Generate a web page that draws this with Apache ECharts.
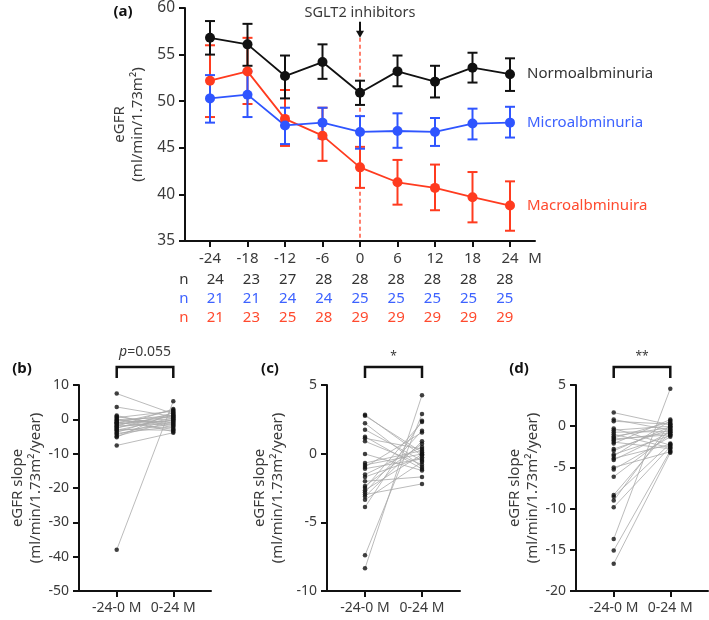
<!DOCTYPE html>
<html><head><meta charset="utf-8">
<script src="https://cdn.jsdelivr.net/npm/echarts@6/dist/echarts.min.js"></script>
<style>html,body{margin:0;padding:0;background:#fff}#c{width:709px;height:620px}</style>
</head><body><div id="c"></div>
<script>
// ---------- Panel (a) data ----------
const months = [-24, -18, -12, -6, 0, 6, 12, 18, 24];
const normoMean = [56.8, 56.1, 52.7, 54.2, 50.9, 53.2, 52.1, 53.6, 52.9];
const normoLow  = [55.0, 53.8, 50.3, 52.4, 49.6, 51.6, 50.4, 52.0, 51.1];
const normoHigh = [58.6, 58.3, 54.9, 56.1, 52.2, 54.9, 53.8, 55.2, 54.6];
const microMean = [50.3, 50.7, 47.4, 47.7, 46.7, 46.8, 46.7, 47.6, 47.7];
const microLow  = [47.7, 48.3, 45.4, 46.0, 44.9, 45.0, 45.2, 45.9, 46.1];
const microHigh = [52.8, 53.2, 49.3, 49.3, 48.4, 48.7, 48.2, 49.2, 49.4];
const macroMean = [52.2, 53.2, 48.1, 46.3, 42.9, 41.3, 40.7, 39.7, 38.8];
const macroLow  = [48.3, 49.7, 45.2, 43.6, 40.7, 38.9, 38.3, 37.0, 36.1];
const macroHigh = [56.0, 56.8, 51.2, 49.3, 45.1, 43.7, 43.2, 42.4, 41.4];
const nNormo = [24, 23, 27, 28, 28, 28, 28, 28, 28];
const nMicro = [21, 21, 24, 24, 25, 25, 25, 25, 25];
const nMacro = [21, 23, 25, 28, 29, 29, 29, 29, 29];
const seriesNames = ['Normoalbminuria', 'Microalbminuria', 'Macroalbminuira'];
const sgltMonth = 0;
const sgltText = 'SGLT2 inhibitors';

// ---------- Panels (b)(c)(d) data: paired slopes ----------
const periodLabels = ['-24-0 M', '0-24 M'];
const bBefore = [7.5, 3.6, 1.1, 0.8, 0.5, 0.2, -0.1, -0.4, -0.5, -0.9, -1.0, -1.1, -1.3, -1.6, -1.9, -2.0, -2.3, -2.6, -2.9, -3.2, -3.4, -3.8, -4.1, -4.5, -4.9, -5.2, -7.6, -38.0];
const bAfter  = [1.6, 0.8, -2.5, -1.8, 2.4, -3.6, 0.6, -0.9, 1.2, -2.9, 0.2, 2.7, -0.4, 1.0, -1.2, 3.0, -0.2, 1.9, -3.2, 0.4, -1.5, 1.4, -2.1, 0.0, -0.6, 2.1, -3.9, 5.3];
const cBefore = [2.83, 2.76, 2.21, 1.75, 1.24, 1.12, 0.90, -0.02, -0.68, -0.82, -0.97, -1.09, -1.52, -1.69, -2.01, -2.35, -2.49, -2.66, -2.81, -2.98, -3.12, -3.36, -3.89, -7.40, -8.35];
const cAfter  = [-0.14, 0.10, -0.97, -0.51, -1.11, 0.34, -0.80, -1.23, 0.22, -0.02, 1.55, -0.38, 0.49, -0.26, -1.69, 0.73, 2.30, -0.05, 1.67, -2.20, 0.90, -0.60, 2.40, 2.88, 4.26];
const dBefore = [1.65, 0.81, 0.60, -0.28, -0.48, -0.73, -0.97, -1.21, -1.41, -1.55, -1.69, -1.93, -2.10, -2.78, -2.98, -3.43, -3.63, -3.91, -4.11, -5.00, -5.24, -6.13, -8.34, -8.55, -9.03, -9.83, -13.70, -15.08, -16.69];
const dAfter  = [0.16, -0.48, 0.24, -2.30, 0.00, -0.65, -2.62, -0.16, 0.52, -1.05, -0.81, -2.74, 0.81, -0.40, -0.08, -1.13, 0.65, -2.20, -0.72, -3.10, -1.29, -0.97, -0.32, -2.10, 0.32, -2.50, 4.55, -2.98, -3.22];
const sigLabels = ['p=0.055', '*', '**'];
const panelLetters = ['(a)', '(b)', '(c)', '(d)'];
const yNameA = 'eGFR\n(ml/min/1.73m²)';
const yNameSlope = 'eGFR slope\n(ml/min/1.73m²/year)';

// ---------- styling ----------
const FONT = 'Noto Sans';
const TXT = '#3a3a3a';
const colors = ['#111111', '#2f55ff', '#ff3b1f'];
const labelColors = ['#333333', '#3d62ff', '#ff4a2e'];

const chart = echarts.init(document.getElementById('c'), null, {renderer: 'canvas'});

function axisBase() {
  return {
    axisLine: {show: true, onZero: false, lineStyle: {color: '#111', width: 2}},
    axisTick: {show: true, inside: false, length: 6, lineStyle: {color: '#111', width: 2}},
    splitLine: {show: false},
    axisLabel: {color: TXT, fontFamily: FONT, fontSize: 14},
    nameTextStyle: {color: TXT, fontFamily: FONT, fontSize: 15, lineHeight: 18}
  };
}

const grids = [
  {left: 185, right: 174, top: 7.7, bottom: 379},
  {left: 79, right: 498, top: 385, bottom: 29},
  {left: 327, right: 249, top: 385, bottom: 29},
  {left: 576, right: 1, top: 385, bottom: 29}
];

const xAxes = [
  Object.assign(axisBase(), {
    type: 'value', gridIndex: 0, min: -28, max: 28,
    axisTick: {show: true, length: 6, lineStyle: {color: '#111', width: 2}, customValues: months},
    axisLabel: {color: TXT, fontFamily: FONT, fontSize: 15, margin: 10,
      customValues: months.concat([28]),
      formatter: v => (v === 28 ? 'M' : String(v))}
  })
];
for (let k = 1; k <= 3; k++) {
  xAxes.push(Object.assign(axisBase(), {
    type: 'value', gridIndex: k, min: 1 / 3, max: 8 / 3,
    axisTick: {show: true, length: 6, lineStyle: {color: '#111', width: 2}, customValues: [1, 2]},
    axisLabel: {color: TXT, fontFamily: FONT, fontSize: 14, margin: 10,
      customValues: [1, 2], formatter: v => periodLabels[Math.round(v) - 1]}
  }));
}

const yAxes = [
  Object.assign(axisBase(), {type: 'value', gridIndex: 0, min: 35, max: 60, interval: 5,
    name: yNameA, nameLocation: 'middle', nameRotate: 90, nameGap: 38,
    axisLabel: {color: TXT, fontFamily: FONT, fontSize: 15.5, margin: 10}}),
  Object.assign(axisBase(), {type: 'value', gridIndex: 1, min: -50, max: 10, interval: 10,
    name: yNameSlope, nameLocation: 'middle', nameRotate: 90, nameGap: 32,
    axisLabel: {color: TXT, fontFamily: FONT, fontSize: 14, margin: 10}}),
  Object.assign(axisBase(), {type: 'value', gridIndex: 2, min: -10, max: 5, interval: 5,
    name: yNameSlope, nameLocation: 'middle', nameRotate: 90, nameGap: 40,
    axisLabel: {color: TXT, fontFamily: FONT, fontSize: 14, margin: 10}}),
  Object.assign(axisBase(), {type: 'value', gridIndex: 3, min: -20, max: 5, interval: 5,
    name: yNameSlope, nameLocation: 'middle', nameRotate: 90, nameGap: 33,
    axisLabel: {color: TXT, fontFamily: FONT, fontSize: 14, margin: 10}})
];

function errorSeries(low, high, color) {
  return {
    type: 'custom', xAxisIndex: 0, yAxisIndex: 0, z: 2,
    data: months.map((m, i) => [m, low[i], high[i]]),
    encode: {x: 0, y: [1, 2]},
    renderItem: function (params, api) {
      const x = api.value(0);
      const pHi = api.coord([x, api.value(2)]);
      const pLo = api.coord([x, api.value(1)]);
      const w = 5;
      const st = {stroke: color, lineWidth: 2};
      return {type: 'group', children: [
        {type: 'line', shape: {x1: pHi[0], y1: pHi[1], x2: pLo[0], y2: pLo[1]}, style: st},
        {type: 'line', shape: {x1: pHi[0] - w, y1: pHi[1], x2: pHi[0] + w, y2: pHi[1]}, style: st},
        {type: 'line', shape: {x1: pLo[0] - w, y1: pLo[1], x2: pLo[0] + w, y2: pLo[1]}, style: st}
      ]};
    }
  };
}

function meanSeries(name, mean, color, labelColor) {
  return {
    type: 'line', name: name, xAxisIndex: 0, yAxisIndex: 0, z: 3,
    data: months.map((m, i) => [m, mean[i]]),
    symbol: 'circle', symbolSize: 10, showSymbol: true,
    itemStyle: {color: color},
    lineStyle: {color: color, width: 1.8},
    endLabel: {show: true, formatter: name, distance: 17, color: labelColor,
      fontFamily: FONT, fontSize: 15},
    animation: false
  };
}

function pairSeries(k, before, after) {
  return [
    {
      type: 'custom', xAxisIndex: k, yAxisIndex: k, z: 2,
      data: before.map((v, i) => [v, after[i]]),
      encode: {y: [0, 1]},
      renderItem: function (params, api) {
        const p1 = api.coord([1, api.value(0)]);
        const p2 = api.coord([2, api.value(1)]);
        return {type: 'line', shape: {x1: p1[0], y1: p1[1], x2: p2[0], y2: p2[1]},
          style: {stroke: '#a9a9a9', lineWidth: 0.8}};
      }
    },
    {
      type: 'scatter', xAxisIndex: k, yAxisIndex: k, z: 3,
      symbol: 'circle', symbolSize: 4.5,
      itemStyle: {color: '#111'},
      data: before.map(v => [1, v]).concat(after.map(v => [2, v]))
    }
  ];
}

const series = [
  errorSeries(macroLow, macroHigh, colors[2]),
  errorSeries(microLow, microHigh, colors[1]),
  errorSeries(normoLow, normoHigh, colors[0]),
  meanSeries(seriesNames[2], macroMean, colors[2], labelColors[2]),
  meanSeries(seriesNames[1], microMean, colors[1], labelColors[1]),
  meanSeries(seriesNames[0], normoMean, colors[0], labelColors[0])
].concat(pairSeries(1, bBefore, bAfter), pairSeries(2, cBefore, cAfter), pairSeries(3, dBefore, dAfter));

chart.setOption({
  animation: false,
  textStyle: {fontFamily: FONT},
  grid: grids,
  xAxis: xAxes,
  yAxis: yAxes,
  series: series
});

// ---------- annotations ----------
function px(g, pt) { return chart.convertToPixel({gridIndex: g}, pt); }
const graphics = [];
const letterPos = [[123, 12], [22, 369], [270, 369], [519, 369]];
panelLetters.forEach((t, i) => graphics.push({type: 'text', x: letterPos[i][0], y: letterPos[i][1],
  style: {text: t, fontFamily: FONT, fontSize: 15, fontWeight: 'bold', fill: '#111', align: 'center', verticalAlign: 'middle'}}));

// SGLT2 marker
const tip = px(0, [sgltMonth, 56.8]);
const base = px(0, [sgltMonth, 35]);
graphics.push({type: 'line', shape: {x1: tip[0], y1: tip[1], x2: base[0], y2: base[1]},
  style: {stroke: '#ff3b1f', lineWidth: 1.3, lineDash: [4, 3]}});
graphics.push({type: 'line', shape: {x1: tip[0], y1: tip[1] - 16, x2: tip[0], y2: tip[1] - 5},
  style: {stroke: '#111', lineWidth: 2}});
graphics.push({type: 'polygon', shape: {points: [[tip[0] - 4, tip[1] - 7], [tip[0] + 4, tip[1] - 7], [tip[0], tip[1]]]},
  style: {fill: '#111'}});
graphics.push({type: 'text', x: tip[0], y: 13, style: {text: sgltText, fontFamily: FONT, fontSize: 14.5,
  fill: TXT, align: 'center', verticalAlign: 'middle'}});

// n table
const nRows = [nNormo, nMicro, nMacro];
const nY = [280, 299, 318];
nRows.forEach((row, r) => {
  graphics.push({type: 'text', x: 184, y: nY[r], style: {text: 'n', fontFamily: FONT, fontSize: 15,
    fill: labelColors[r], align: 'center', verticalAlign: 'middle'}});
  row.forEach((v, i) => {
    const p = px(0, [months[i] * 0.965, 35]);
    graphics.push({type: 'text', x: p[0], y: nY[r], style: {text: String(v), fontFamily: FONT, fontSize: 15,
      fill: labelColors[r], align: 'center', verticalAlign: 'middle'}});
  });
});

// significance brackets
const bracketTop = [10, 5, 5];
[1, 2, 3].forEach((g, i) => {
  const a = px(g, [1, bracketTop[i]]);
  const b = px(g, [2, bracketTop[i]]);
  const yTop = 367, yBot = 378;
  graphics.push({type: 'polyline', shape: {points: [[a[0], yBot], [a[0], yTop], [b[0], yTop], [b[0], yBot]]},
    style: {stroke: '#111', lineWidth: 2.5, fill: null}});
  const cx = (a[0] + b[0]) / 2;
  if (i === 0) {
    graphics.push({type: 'text', x: cx, y: 352, style: {
      text: '{i|p}=0.055', fontFamily: FONT, fontSize: 14, fill: TXT, align: 'center', verticalAlign: 'middle',
      rich: {i: {fontStyle: 'italic', fontFamily: FONT, fontSize: 14, fill: TXT}}}});
  } else {
    graphics.push({type: 'text', x: cx, y: 357, style: {text: sigLabels[i], fontFamily: FONT, fontSize: 12,
      fill: TXT, align: 'center', verticalAlign: 'middle'}});
  }
});

chart.setOption({graphic: graphics});
</script>
</body></html>
